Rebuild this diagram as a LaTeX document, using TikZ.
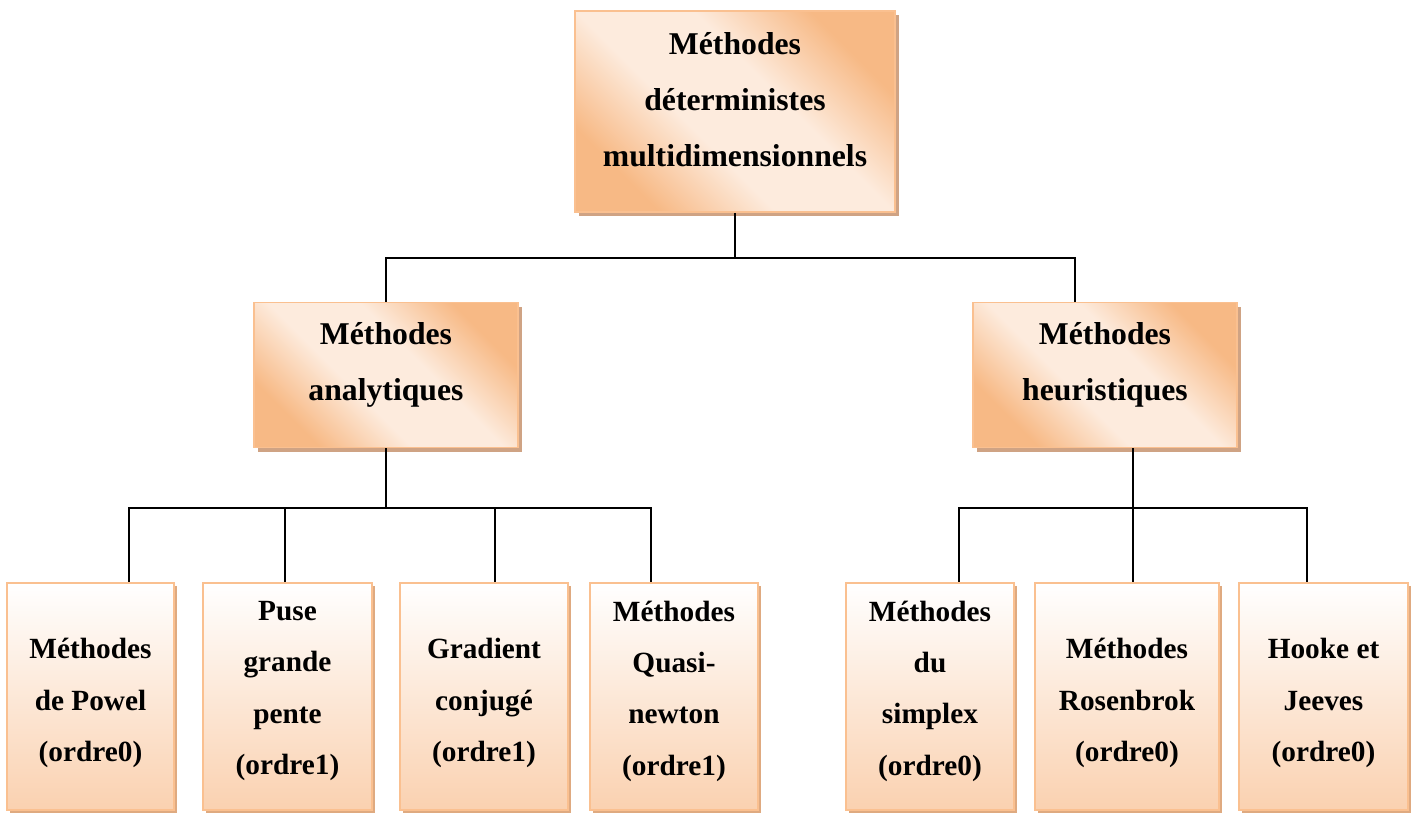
\documentclass[tikz,border=0pt]{standalone}
\usepackage{fontspec}
\setmainfont{Liberation Serif}
\usepackage{tikz}
\usetikzlibrary{shadows}

\definecolor{edge_orange}{HTML}{FAC090}
\definecolor{deep_orange}{HTML}{F7B985}
\definecolor{pale_orange}{HTML}{FDEBDD}
\definecolor{light_orange}{HTML}{FAD1B0}
\definecolor{shadow_tan}{HTML}{CFA384}
\definecolor{shadow_orange}{HTML}{DFAA80}

\pgfdeclareverticalshading{upper_shade}{100bp}{%
  color(0bp)=(deep_orange); color(26bp)=(deep_orange);
  color(42bp)=(pale_orange); color(58bp)=(pale_orange);
  color(74bp)=(deep_orange); color(100bp)=(deep_orange)}

\tikzset{
  upper_box/.style={draw=edge_orange, line width=1.5pt, rectangle,
    shading=upper_shade, shading angle=-45,
    drop shadow={shadow xshift=4pt, shadow yshift=-4pt, fill=shadow_tan, opacity=1}},
  leaf_box/.style={draw=edge_orange, line width=1.5pt, rectangle,
    top color=white, bottom color=light_orange,
    drop shadow={shadow xshift=3pt, shadow yshift=-3pt, fill=shadow_orange, opacity=1},
    minimum height=227pt},
  big_text/.style={align=center, font=\fontsize{31.7}{56}\selectfont\bfseries},
  leaf_text/.style={align=center, font=\fontsize{29.3}{51.3}\selectfont\bfseries},
}

\begin{document}
\begin{tikzpicture}[x=1pt, y=-1pt]
        \useasboundingbox (0,0) rectangle (1415,812);

        % Bus points
        \coordinate (bus_root) at (735,258);
        \coordinate (bus_ana) at (386,508);
        \coordinate (bus_heu) at (1133,508);

        % Boxes
        \node[upper_box, minimum width=320pt, minimum height=201pt] (root) at (735,111.5) {};
        \node[upper_box, minimum width=264pt, minimum height=145pt] (ana) at (386,375) {};
        \node[upper_box, minimum width=264pt, minimum height=145pt] (heu) at (1105,375) {};

        \node[leaf_box, minimum width=167pt] (powel) at (90.5,696.5) {};
        \node[leaf_box, minimum width=169pt] (pente) at (287.5,696.5) {};
        \node[leaf_box, minimum width=168pt] (gradient) at (484,696.5) {};
        \node[leaf_box, minimum width=168pt] (quasi) at (674,696.5) {};
        \node[leaf_box, minimum width=168pt] (simplex) at (930,696.5) {};
        \node[leaf_box, minimum width=184pt] (rosen) at (1127,696.5) {};
        \node[leaf_box, minimum width=169pt] (hooke) at (1323.5,696.5) {};

        % Draw branches
        \draw[line width=1.8pt] (root.south) -- (bus_root);
        \draw[line width=1.8pt] (bus_root) -| (ana.north);
        \draw[line width=1.8pt] (bus_root) -| ([xshift=-30pt]heu.north);

        \draw[line width=1.8pt] (ana.south) -- (bus_ana);
        \draw[line width=1.8pt] (bus_ana) -| ([xshift=38.5pt]powel.north);
        \draw[line width=1.8pt] (bus_ana) -| ([xshift=-2.5pt]pente.north);
        \draw[line width=1.8pt] (bus_ana) -| ([xshift=11pt]gradient.north);
        \draw[line width=1.8pt] (bus_ana) -| ([xshift=-23pt]quasi.north);

        \draw[line width=1.8pt] ([xshift=28pt]heu.south) -- (bus_heu);
        \draw[line width=1.8pt] (bus_heu) -| ([xshift=29pt]simplex.north);
        \draw[line width=1.8pt] (bus_heu) -| ([xshift=6pt]rosen.north);
        \draw[line width=1.8pt] (bus_heu) -| ([xshift=-16.5pt]hooke.north);

        % Labels
        \node[big_text] (root_text) at (735,100) {Méthodes\\déterministes\\multidimensionnels};
        \node[big_text] (ana_text) at (386,365) {Méthodes\\analytiques};
        \node[big_text] (heu_text) at (1105,365) {Méthodes\\heuristiques};

        \node[leaf_text] (powel_text) at (90.5,703) {Méthodes\\de Powel\\(ordre0)};
        \node[leaf_text] (pente_text) at (287.5,691) {Puse\\grande\\pente\\(ordre1)};
        \node[leaf_text] (gradient_text) at (484,703) {Gradient\\conjugé\\(ordre1)};
        \node[leaf_text] (quasi_text) at (674,691) {Méthodes\\Quasi-\\newton\\(ordre1)};
        \node[leaf_text] (simplex_text) at (930,691) {Méthodes\\du\\simplex\\(ordre0)};
        \node[leaf_text] (rosen_text) at (1127,703) {Méthodes\\Rosenbrok\\(ordre0)};
        \node[leaf_text] (hooke_text) at (1323.5,703) {Hooke et\\Jeeves\\(ordre0)};
\end{tikzpicture}
\end{document}
